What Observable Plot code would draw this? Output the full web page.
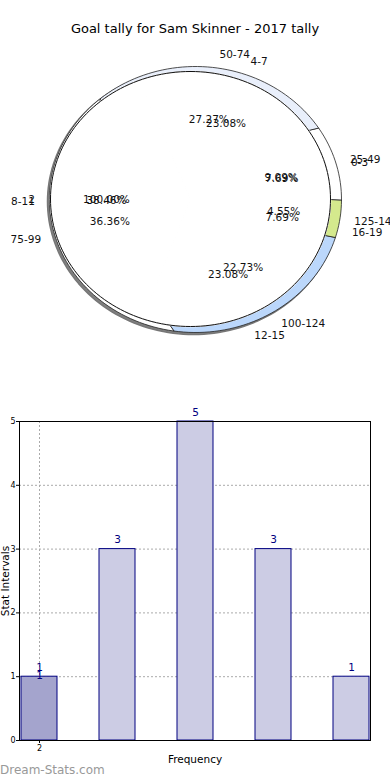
<!DOCTYPE html>
<html><head><meta charset="utf-8">
<script src="https://cdn.jsdelivr.net/npm/d3@7"></script>
<script src="https://cdn.jsdelivr.net/npm/@observablehq/plot@0.6"></script>
<style>
body{margin:0;background:#fff;font-family:"DejaVu Sans",sans-serif;}
#wrap{position:relative;width:390px;height:780px;overflow:hidden;}
#title{position:absolute;top:21px;left:0;width:390px;text-align:center;font-size:13px;color:#000;}
#pie{position:absolute;top:0;left:0;}
#bar{position:absolute;top:400px;left:0;}
#wm{position:absolute;left:0;top:763px;font-size:12px;color:#999;}
svg{font-family:"DejaVu Sans",sans-serif;}
</style></head><body>
<div id="wrap"><div id="pie"></div><div id="title"></div><div id="bar"></div><div id="wm"></div></div>
<script>
const titleText = "Goal tally for Sam Skinner - 2017 tally";
const watermark = "Dream-Stats.com";
const innerCats = ["4-7","0-3","16-19","12-15","8-11"];
const innerValues = [3,1,1,3,5];
const outerCats = ["50-74","25-49","125-149","100-124","75-99"];
const outerValues = [6,2,1,5,8];
const outerColors = ["#e9effb","#ffffff","#d4e98d","#bbd7fb","#ffffff"];
const totalCats = ["2"];
const totalValues = [1];
const barCats = ["0-3","4-7","8-11","12-15","16-19"];
const barValues = [1,3,5,3,1];
const xTickLabels = ["2"];
const yTicks = [0,1,2,3,4,5];
const xLabel = "Frequency";
const yLabel = "Stat Intervals";

document.getElementById("title").textContent = titleText;
document.getElementById("wm").textContent = watermark;

// ---- pie geometry (layout constants) ----
const C = {x:195, y:199, rx:146, ry:133};
const IN = {x:190, y:198.5, rx:140, ry:127.5};
const rad = d => d*Math.PI/180;
const pt = (e, deg, k=1) => ({x: e.x + k*e.rx*Math.sin(rad(deg)), y: e.y - k*e.ry*Math.cos(rad(deg))});
function pie(cats, values, start){
  const t = d3.sum(values); let a = start;
  return values.map((v,i)=>{const a0=a, a1=a+v/t*360; a=a1;
    return {cat:cats[i], value:v, a0, a1, mid:(a0+a1)/2, pct:(100*v/t).toFixed(2)+"%"};});
}
const outerSl = pie(outerCats, outerValues, -40.5).map((d,i)=>({...d, color: outerColors[i]}));
const innerSl = pie(innerCats, innerValues, -21.5);
const totalSl = pie(totalCats, totalValues, 90);
function arcPts(e, a0, a1){const n=Math.max(2, Math.ceil((a1-a0)/2)); return d3.range(n+1).map(j=>pt(e, a0+(a1-a0)*j/n));}
const ringPts = outerSl.flatMap((s,i)=>[...arcPts(C,s.a0,s.a1), ...arcPts(IN,s.a0,s.a1).reverse()].map(p=>({...p, id:"o"+i, fill:s.color})));
const wedgePts = innerSl.flatMap((s,i)=>[{x:IN.x,y:IN.y}, ...arcPts(IN,s.a0,s.a1)].map(p=>({...p, id:"i"+i})));
const shadowPts = arcPts({x:C.x-2, y:C.y+2, rx:C.rx, ry:C.ry}, 0, 360);
const outlinePts = arcPts(IN, 0, 360);
const allSl = [...innerSl, ...outerSl, ...totalSl];
const catLabels = allSl.map(s=>({...pt(C, s.mid, 1.1), cat:s.cat, right: Math.sin(rad(s.mid)) >= 0}));
const pctLabels = allSl.map(s=>({...pt(C, s.mid, 0.61), pct:s.pct}));

const pieChart = Plot.plot({
  width:390, height:345, margin:0,
  x:{domain:[0,390], range:[0,390], axis:null},
  y:{domain:[0,345], range:[0,345], axis:null},
  color:{type:"identity"},
  marks:[
    Plot.line(shadowPts, {x:"x", y:"y", fill:"#555", fillOpacity:0.75, stroke:"#777", curve:"linear-closed"}),
    Plot.line(ringPts, {x:"x", y:"y", z:"id", fill:"fill", stroke:"#222", strokeWidth:0.8, curve:"linear-closed"}),
    Plot.line(wedgePts, {x:"x", y:"y", z:"id", fill:"white", stroke:"white", strokeWidth:1.5, curve:"linear-closed"}),
    Plot.line(outlinePts, {x:"x", y:"y", stroke:"#111", strokeWidth:1, curve:"linear-closed"}),
    Plot.text(pctLabels, {x:"x", y:"y", text:"pct", fontSize:10.5, fill:"#111"}),
    Plot.text(catLabels.filter(d=>d.right), {x:"x", y:"y", text:"cat", textAnchor:"start", fontSize:10.5, fill:"#111"}),
    Plot.text(catLabels.filter(d=>!d.right), {x:"x", y:"y", text:"cat", textAnchor:"end", fontSize:10.5, fill:"#111"})
  ]
});
document.getElementById("pie").append(pieChart);

// ---- bar chart ----
const barData = barCats.map((c,i)=>({cat:c, value:barValues[i], first:i===0}));
const barChart = Plot.plot({
  width:390, height:380, marginTop:21, marginBottom:40, marginLeft:19, marginRight:20,
  style:{fontFamily:"DejaVu Sans", fontSize:"8px", color:"#000", background:"transparent"},
  x:{type:"band", domain:barCats, paddingInner:0.543, paddingOuter:0},
  y:{domain:[0,5]},
  color:{type:"identity"},
  marks:[
    Plot.gridY(yTicks.slice(1,5), {stroke:"#aaa", strokeOpacity:1, strokeDasharray:"2,2"}),
    Plot.ruleX([barCats[0]], {stroke:"#aaa", strokeDasharray:"2,2"}),
    Plot.barY(barData, {x:"cat", y:"value", fill:d=>d.first ? "#a4a4cd" : "#ccccE4", stroke:"#000080", strokeWidth:1}),
    Plot.text(barData, {x:"cat", y:"value", text:d=>String(d.value), dy:-9, fill:"#000080", fontSize:10.5}),
    Plot.text(barData.filter(d=>d.first), {x:"cat", y:"value", text:d=>String(d.value), dy:-1, fill:"#000080", fontSize:10.5}),
    Plot.frame({stroke:"#000"}),
    Plot.axisY({ticks:yTicks, tickFormat:"d", tickSize:3, tickPadding:1, fontSize:8, label:null}),
    Plot.axisY({ticks:[], tickSize:0, label:yLabel, labelAnchor:"center", labelArrow:"none", labelOffset:18, fontSize:10.5}),
    Plot.axisX({ticks:[barCats[0]], tickFormat:()=>xTickLabels[0], tickSize:3, tickPadding:2, fontSize:8, label:null}),
    Plot.axisX({ticks:[], tickSize:0, label:xLabel, labelAnchor:"center", labelArrow:"none", labelOffset:22, fontSize:10.5})
  ]
});
document.getElementById("bar").append(barChart);
</script>
</body></html>
